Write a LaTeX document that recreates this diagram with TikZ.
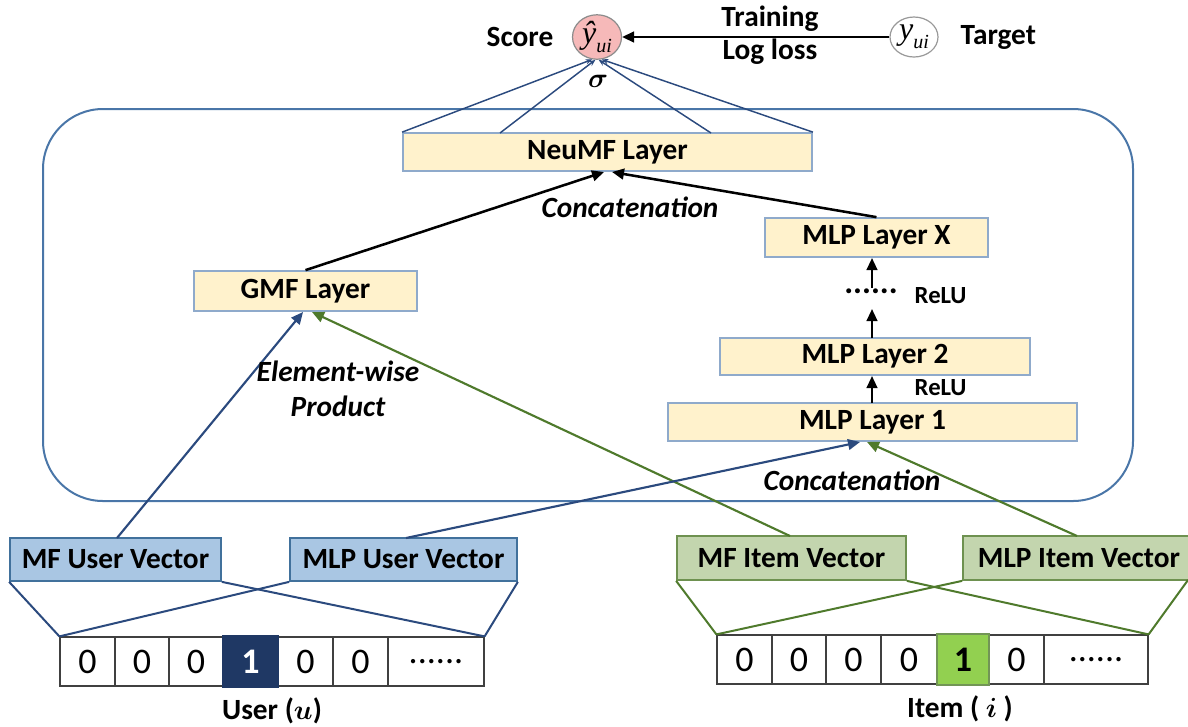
\documentclass[tikz,border=0pt]{standalone}
\usepackage{amsmath,bm}
\usepackage{fontspec}
\setmainfont{Carlito}
\newfontfamily\tmsfont{Liberation Serif}
\usetikzlibrary{arrows.meta,shapes.geometric}
\definecolor{ybox}{HTML}{FFF2CC}
\definecolor{yborder}{HTML}{8FAACB}
\definecolor{ufill}{HTML}{A9C6E3}
\definecolor{uborder}{HTML}{41719C}
\definecolor{ifill}{HTML}{C3D5AE}
\definecolor{iborder}{HTML}{6E9150}
\definecolor{uline}{HTML}{2B4A7E}
\definecolor{iline}{HTML}{4F7A2C}
\definecolor{navy}{HTML}{1F3864}
\definecolor{lgreen}{HTML}{92D050}
\definecolor{pinkf}{HTML}{F6B9B9}
\definecolor{frame}{HTML}{4A76A8}
\newcommand\mysixdots{......}
\newcommand\mysub[1]{\raisebox{-0.28em}{\fontsize{15}{16}\selectfont #1}}
\begin{document}
\begin{tikzpicture}[x=0.75pt,y=-0.75pt,
  sz/.style 2 args={minimum width=(#1)*0.75pt,minimum height=(#2)*0.75pt},
  lbl/.style={font=\fontsize{22}{24}\selectfont\bfseries},
  ilbl/.style={font=\fontsize{22}{26}\selectfont\bfseries\itshape},
  layer/.style={draw=yborder,fill=ybox,line width=1.3pt,inner sep=0pt,lbl},
  uvec/.style={draw=uborder,fill=ufill,line width=1.3pt,inner sep=0pt,lbl},
  ivec/.style={draw=iborder,fill=ifill,line width=1.3pt,inner sep=0pt,lbl},
  cell/.style={draw=black!75,line width=0.9pt,inner sep=0pt,font=\fontsize{27}{30}\selectfont},
  karrow/.style={line width=1.9pt,-{Triangle[length=9pt,width=8pt]}},
  uarrow/.style={uline,line width=1.6pt,-{Triangle[length=9pt,width=8pt]}},
  iarrow/.style={iline,line width=1.6pt,-{Triangle[length=9pt,width=8pt]}},
  uconn/.style={uline,line width=1.5pt},
  iconn/.style={iline,line width=1.5pt},
  fan/.style={uline,line width=1.1pt,-{Stealth[length=5pt,width=4pt]}},
  circ/.style={ellipse,line width=0.9pt,inner sep=0pt,font=\fontsize{24}{26}\selectfont\tmsfont\itshape}
]
\useasboundingbox (0,0) rectangle (1188,726);
% big frame
\draw[frame,line width=1.5pt,rounded corners=45pt] (43,109) rectangle (1133,501);

% top
\node[circ,draw=black!45,fill=pinkf,sz={49}{44}] (score) at (597,37) {ŷ\mysub{ui}};
\node[circ,draw=black!40,fill=white,sz={48}{40}] (target) at (914,37) {y\mysub{ui}};
\node[lbl,anchor=east] (scoret) at (558,37) {Score};
\node[lbl,anchor=west] (targett) at (956,37) {Target};
\node[lbl] (train) at (770,19) {Training};
\node[lbl] (logl) at (770,52) {Log loss};
\node[font=\fontsize{21}{22}\selectfont] (sig) at (598,81) {$\bm{\sigma}$};
\draw[karrow] (target) -- (score);

% layers
\node[layer,sz={409}{38}] (neumf) at (607.5,152) {NeuMF Layer};
\node[layer,sz={223}{40}] (gmf) at (305.5,291) {GMF Layer};
\node[layer,sz={223}{39}] (mlpx) at (876.5,237.5) {MLP Layer X};
\node[layer,sz={310}{37}] (mlp2) at (875,356.5) {MLP Layer 2};
\node[layer,sz={409}{38}] (mlp1) at (872.5,422) {MLP Layer 1};

% score fan
\coordinate (f2) at (500,133);
\coordinate (f3) at (711,133);
\draw[fan] (neumf.north west) -- (score.258);
\draw[fan] (f2) -- (score.266);
\draw[fan] (f3) -- (score.274);
\draw[fan] (neumf.north east) -- (score.282);

% concatenation to NeuMF
\coordinate (n1) at (604,172);
\coordinate (n2) at (612,172);
\draw[karrow] (gmf.north) -- (n1);
\draw[karrow] (mlpx.north) -- (n2);
\node[ilbl] (concat1) at (630,207) {Concatenation};

% MLP stack
\coordinate (r1) at (872,288);
\coordinate (r2) at (872,258);
\coordinate (r3) at (872,338);
\coordinate (r4) at (872,309);
\coordinate (r5) at (872,403);
\coordinate (r6) at (872,376);
\draw[karrow,line width=1.6pt] (r1) -- (r2);
\draw[karrow,line width=1.6pt] (r3) -- (r4);
\draw[karrow,line width=1.6pt] (r5) -- (r6);
\node[font=\fontsize{25}{26}\selectfont\bfseries] (dots) at (871,291) {\mysixdots};
\node[font=\fontsize{18.5}{20}\selectfont\bfseries,anchor=west] (relu1) at (910,296) {ReLU};
\node[font=\fontsize{18.5}{20}\selectfont\bfseries,anchor=west] (relu2) at (910,388) {ReLU};

% vectors
\node[uvec,sz={211}{43}] (mfu) at (115.5,559.5) {MF User Vector};
\node[uvec,sz={227}{43}] (mlpu) at (403.5,559.5) {MLP User Vector};
\node[ivec,sz={229}{44}] (mfi) at (791.5,558) {MF Item Vector};
\node[ivec,sz={232}{44}] (mlpi) at (1079,558) {MLP Item Vector};

% arrows from vectors
\coordinate (a1) at (117,538);
\coordinate (a2) at (406,538);
\coordinate (a3) at (790,536);
\coordinate (a4) at (1077,536);
\coordinate (g1) at (303,312);
\coordinate (g2) at (312,312);
\coordinate (m1) at (860,442);
\coordinate (m2) at (867,442);
\draw[uarrow] (a1) -- (g1);
\draw[iarrow] (a3) -- (g2);
\draw[uarrow] (a2) -- (m1);
\draw[iarrow] (a4) -- (m2);
\node[ilbl,align=center] (ewp) at (338,389) {Element-wise\\Product};
\node[ilbl] (concat2) at (852,480) {Concatenation};

% user input row
\foreach \i/\xa/\xb/\t in {1/60/115/0,2/115/169/0,3/169/223/0,5/278/333/0,6/333/388/0,7/388/484/\mysixdots}{
  \node[cell,sz={\xb-\xa}{49}] (u\i) at ({(\xa+\xb)/2},661.5) {\t};
}
\node[cell,draw=navy,fill=navy,text=white,font=\fontsize{27}{30}\selectfont\bfseries,sz={55}{51}] (u4) at (250.5,661.5) {1};
% item input row
\foreach \i/\xa/\xb/\t in {1/717/772/0,2/772/826/0,3/826/881/0,4/881/937/0,6/989/1044/0,7/1044/1148/\mysixdots}{
  \node[cell,sz={\xb-\xa}{49}] (i\i) at ({(\xa+\xb)/2},659.5) {\t};
}
\node[cell,draw=iline!80,fill=lgreen,line width=1.2pt,font=\fontsize{27}{30}\selectfont\bfseries,sz={52}{51}] (i5) at (963,659.5) {1};

\node[lbl] (usert) at (272,711) {User ($\bm{u}$)};
\node[lbl] (itemt) at (960,709) {Item ( $\bm{i}$ )};

% vector to row connectors
\draw[uconn] (mfu.south west) -- (u1.north west);
\draw[uconn] (mfu.south east) -- (u7.north east);
\draw[uconn] (mlpu.south west) -- (u1.north west);
\draw[uconn] (mlpu.south east) -- (u7.north east);
\draw[iconn] (mfi.south west) -- (i1.north west);
\draw[iconn] (mfi.south east) -- (i7.north east);
\draw[iconn] (mlpi.south west) -- (i1.north west);
\coordinate (c9) at (1188,580);
\draw[iconn] (c9) -- (i7.north east);
\end{tikzpicture}
\end{document}
